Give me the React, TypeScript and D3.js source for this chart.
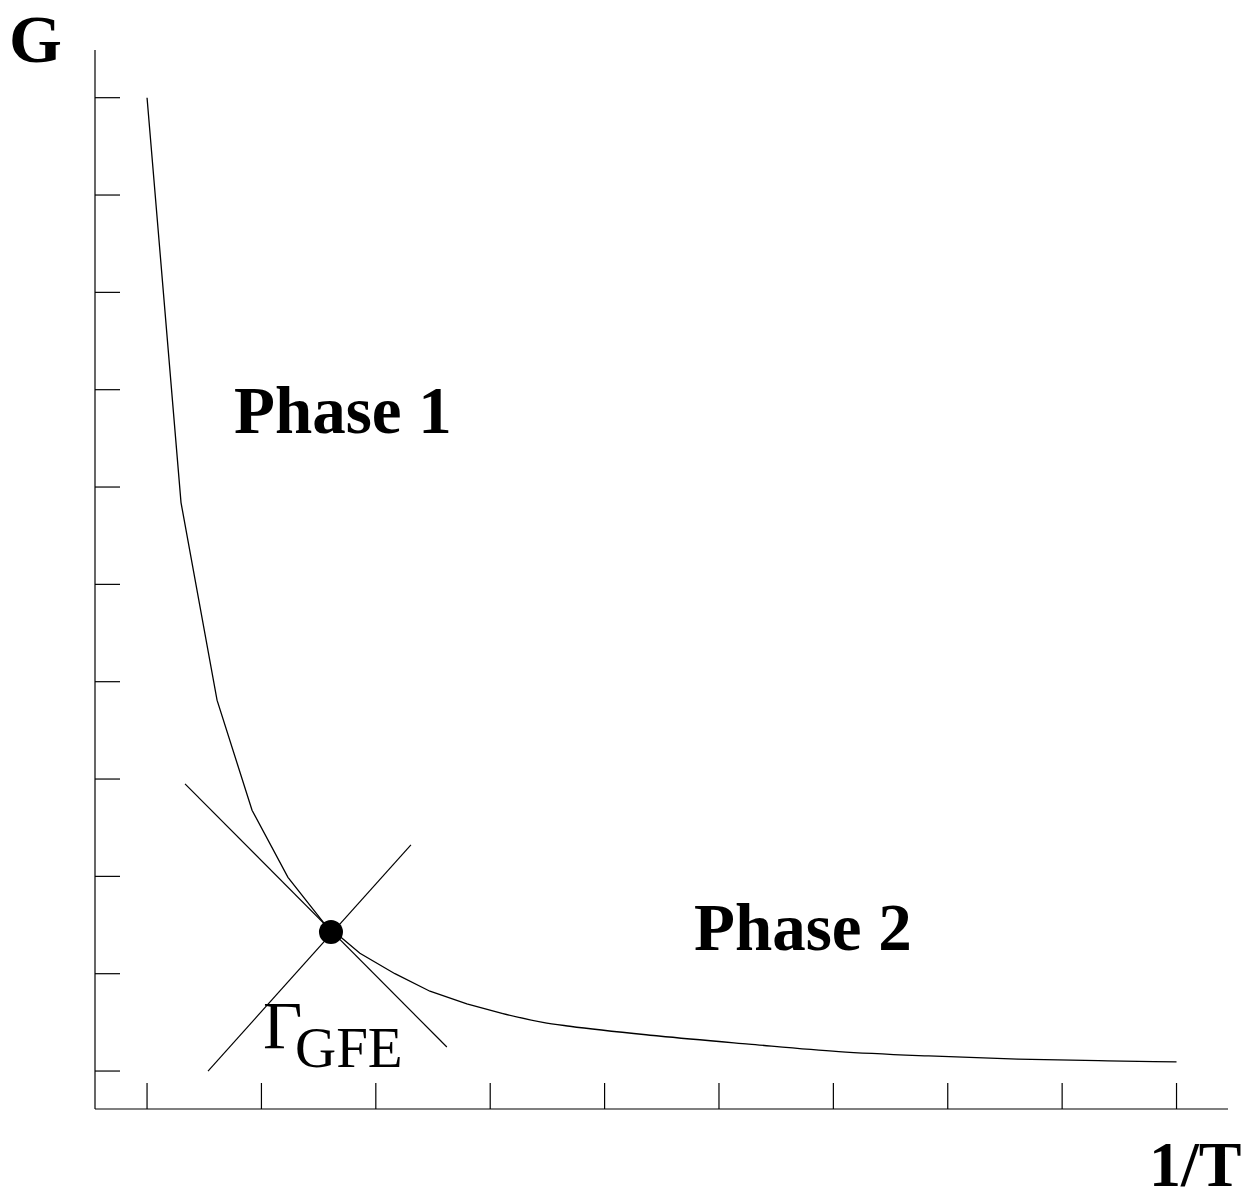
import React from "react";
import * as d3 from "d3";

// x = 1/T, y = G
export const xTicks: number[] = [1, 2, 3, 4, 5, 6, 7, 8, 9, 10];
export const yTicks: number[] = [0, 1, 2, 3, 4, 5, 6, 7, 8, 9, 10];

export const curveX: number[] = [
  1.0, 1.297, 1.612, 1.918, 2.232, 2.547, 2.861, 3.167, 3.473, 3.796, 4.111,
  4.46, 4.696, 5.474, 6.26, 7.047, 7.833, 8.611, 9.397, 10.0,
];
export const curveG: number[] = [
  10.0, 5.84, 3.81, 2.68, 1.99, 1.52, 1.21, 1.0, 0.82, 0.69, 0.59, 0.5, 0.46,
  0.36, 0.277, 0.2, 0.155, 0.123, 0.105, 0.094,
];

// the two lines crossing at the critical point
export const tangentX: number[] = [1.332, 3.621];
export const tangentG: number[] = [2.95, 0.247];
export const crossX: number[] = [1.533, 3.307];
export const crossG: number[] = [0.0, 2.323];

export const critical = { x: 2.608, g: 1.429 };

const width = 1245;
const height = 1191;
const font = "'Liberation Serif', 'Times New Roman', serif";

const App = () => {
  const x = d3.scaleLinear().domain([0.545, 10.45]).range([95, 1228]);
  const y = d3.scaleLinear().domain([-0.39, 10.49]).range([1109, 50]);

  const line = d3
    .line<[number, number]>()
    .x((d) => x(d[0]))
    .y((d) => y(d[1]));

  const curvePts = curveX.map((v, i) => [v, curveG[i]] as [number, number]);
  // steep part is a plain polyline, the flat tail is drawn smooth
  const split = 10;
  const headPts = curvePts.slice(0, split + 1);
  const tailPts = curvePts.slice(split);
  const smooth = line.curve(d3.curveMonotoneX);
  const tailPath = smooth(tailPts) ?? "";
  line.curve(d3.curveLinear);
  const headPath = line(headPts) ?? "";

  const tangentPts = tangentX.map((v, i) => [v, tangentG[i]] as [number, number]);
  const crossPts = crossX.map((v, i) => [v, crossG[i]] as [number, number]);

  const [x0, x1] = x.domain();
  const [y0, y1] = y.domain();

  return (
    <div style={{ position: "absolute", left: 0, top: 0, background: "#fff" }}>
      <svg width={width} height={height} style={{ display: "block" }}>
        <rect width={width} height={height} fill="#fff" />
        {/* axes */}
        <line x1={x(x0)} x2={x(x0)} y1={y(y0)} y2={y(y1)} stroke="#000" strokeWidth={1.2} />
        <line x1={x(x0)} x2={x(x1)} y1={y(y0)} y2={y(y0)} stroke="#000" strokeWidth={1.2} />
        {yTicks.map((t) => (
          <line key={"y" + t} x1={x(x0)} x2={x(x0) + 25} y1={y(t)} y2={y(t)} stroke="#000" strokeWidth={1.2} />
        ))}
        {xTicks.map((t) => (
          <line key={"x" + t} x1={x(t)} x2={x(t)} y1={y(y0)} y2={y(y0) - 26} stroke="#000" strokeWidth={1.2} />
        ))}

        <path d={headPath} fill="none" stroke="#000" strokeWidth={1.3} />
        <path d={tailPath} fill="none" stroke="#000" strokeWidth={1.3} />
        <path d={line(tangentPts) ?? ""} fill="none" stroke="#000" strokeWidth={1.2} />
        <path d={line(crossPts) ?? ""} fill="none" stroke="#000" strokeWidth={1.2} />
        <circle cx={x(critical.x)} cy={y(critical.g)} r={12} fill="#000" />

        <g fontFamily={font} fill="#000">
          <text x={9} y={62} fontSize={68} fontWeight="bold">G</text>
          <text x={1149} y={1186} fontSize={64} fontWeight="bold">1/T</text>
          <text x={234} y={433} fontSize={67} fontWeight="bold">Phase 1</text>
          <text x={694} y={950} fontSize={67} fontWeight="bold">Phase 2</text>
          <text x={263} y={1048} fontSize={68}>Γ</text>
          <text x={295} y={1067} fontSize={57}>GFE</text>
        </g>
      </svg>
    </div>
  );
};

export default App;
